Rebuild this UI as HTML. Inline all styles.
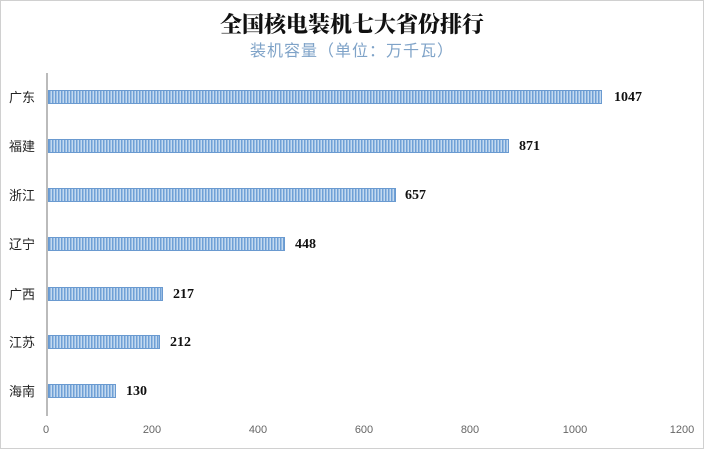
<!DOCTYPE html><html><head><meta charset="utf-8"><style>
body{margin:0;width:704px;height:449px;background:#fff;position:relative;overflow:hidden;font-family:"Liberation Sans","Noto Sans CJK SC",sans-serif}
.frame{position:absolute;left:0;top:0;width:702px;height:447px;border:1px solid #d0d0d0}
.t{position:absolute;left:0;width:704px;text-align:center}
.bar{position:absolute;left:48px;height:14px;background:repeating-linear-gradient(90deg,#6fa0d6 0 1.5px,#c4daf0 1.5px 3px);border:1px solid #6a9ad0;box-sizing:border-box}
.lab{position:absolute;left:9px;font-size:13px;color:#222}
.val{position:absolute;font-family:"Liberation Serif",serif;font-weight:bold;font-size:14px;color:#111}
.tick{position:absolute;top:424px;font-size:11px;color:#666;width:40px;text-align:center}
</style></head><body><div class="frame"></div>
<div class="t" style="top:8px;font-size:22px;font-weight:900;color:#111;font-family:'Noto Serif CJK SC','Noto Sans CJK SC',serif">全国核电装机七大省份排行</div>
<div class="t" style="top:37px;font-size:16px;color:#7fa3c8;letter-spacing:1px">装机容量（单位：万千瓦）</div>
<div style="position:absolute;left:46px;top:73px;width:2px;height:343px;background:#bbb"></div>
<div class="bar" style="top:90px;width:554px"></div><div class="lab" style="top:87px">广东</div><div class="val" style="left:614px;top:90px">1047</div>
<div class="bar" style="top:139px;width:461px"></div><div class="lab" style="top:136px">福建</div><div class="val" style="left:519px;top:139px">871</div>
<div class="bar" style="top:188px;width:348px"></div><div class="lab" style="top:185px">浙江</div><div class="val" style="left:405px;top:188px">657</div>
<div class="bar" style="top:237px;width:237px"></div><div class="lab" style="top:234px">辽宁</div><div class="val" style="left:295px;top:237px">448</div>
<div class="bar" style="top:287px;width:115px"></div><div class="lab" style="top:284px">广西</div><div class="val" style="left:173px;top:287px">217</div>
<div class="bar" style="top:335px;width:112px"></div><div class="lab" style="top:332px">江苏</div><div class="val" style="left:170px;top:335px">212</div>
<div class="bar" style="top:384px;width:68px"></div><div class="lab" style="top:381px">海南</div><div class="val" style="left:126px;top:384px">130</div>
<div class="tick" style="left:26px">0</div><div class="tick" style="left:132px">200</div><div class="tick" style="left:238px">400</div><div class="tick" style="left:344px">600</div><div class="tick" style="left:450px">800</div><div class="tick" style="left:555px">1000</div><div class="tick" style="left:662px">1200</div>
</body></html>
